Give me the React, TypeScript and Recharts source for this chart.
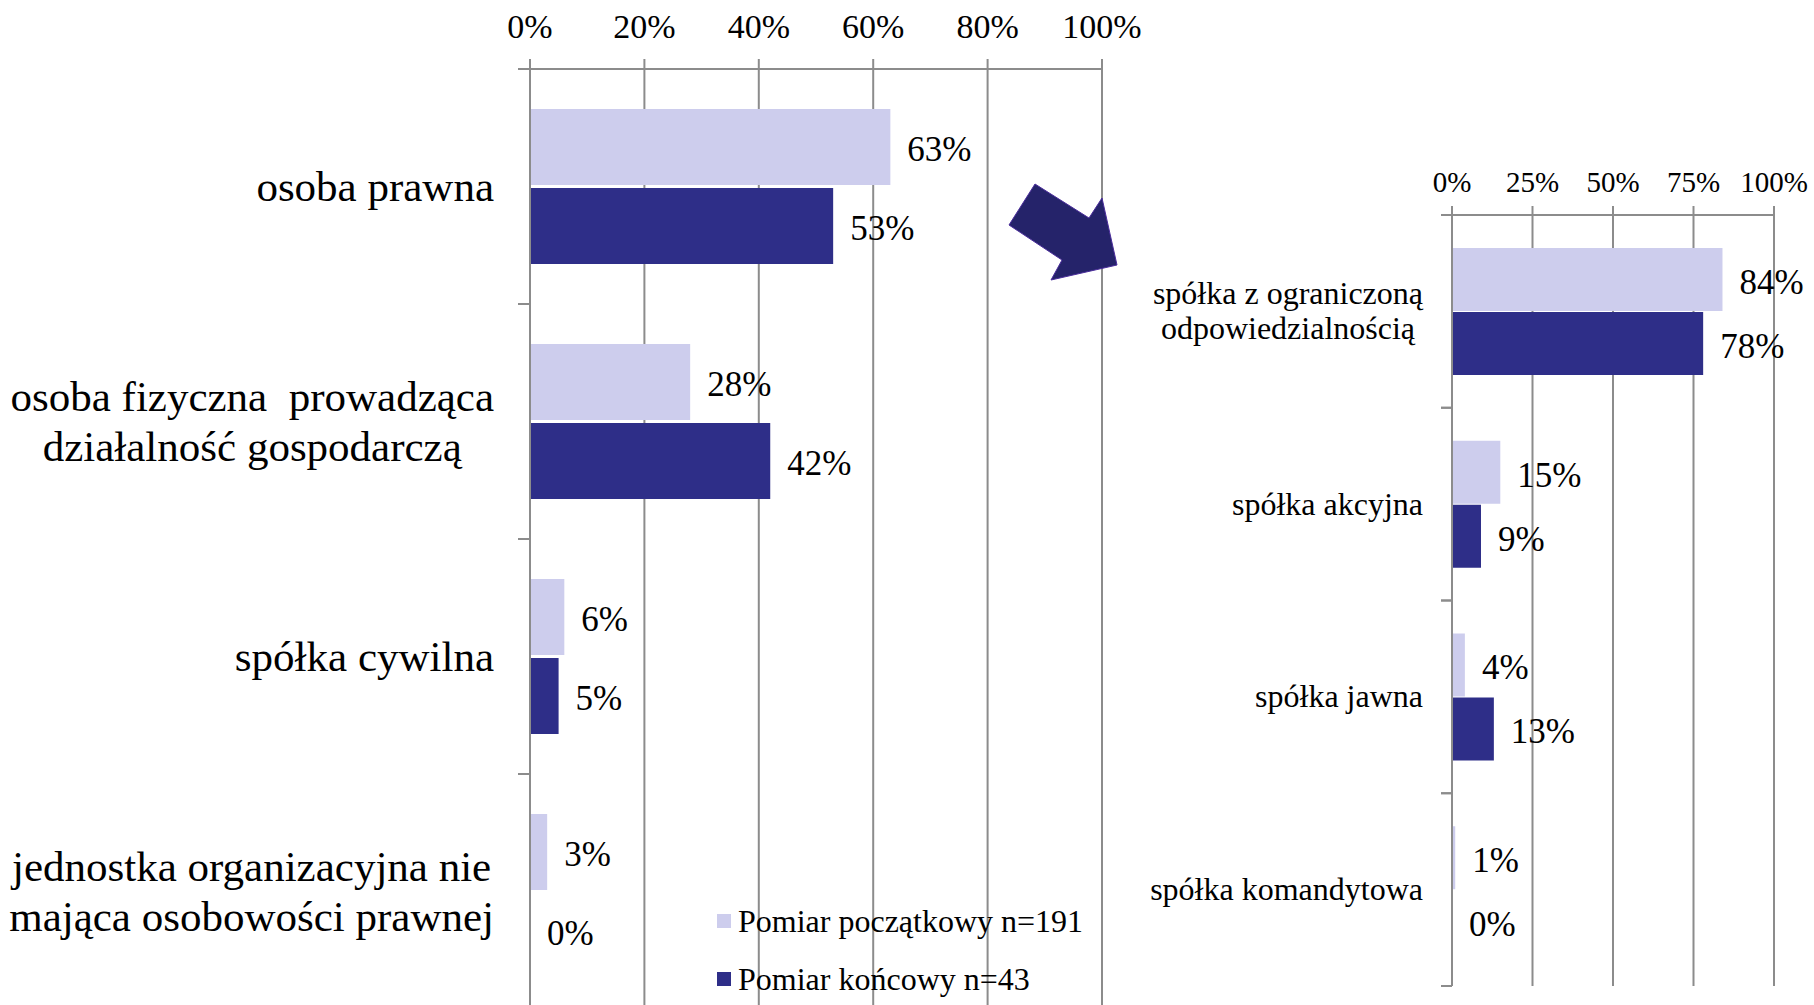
import React from "react";
import { BarChart, Bar, XAxis, YAxis, CartesianGrid, LabelList, Legend } from "recharts";

const FONT = '"Liberation Serif", "Times New Roman", serif';
const GRID = "#8c8c8c";
const LIGHT = "#cdcded";
const DARK = "#2e2e88";

const seriesNames = ["Pomiar początkowy n=191", "Pomiar końcowy n=43"];

const leftCategories = [
    "osoba prawna",
    "osoba fizyczna  prowadząca\ndziałalność gospodarczą",
    "spółka cywilna",
    "jednostka organizacyjna nie\nmająca osobowości prawnej",
];
const leftInitial = [63, 28, 6, 3];
const leftFinal = [53, 42, 5, 0];
const leftTicks = [0, 20, 40, 60, 80, 100];

const rightCategories = [
    "spółka z ograniczoną\nodpowiedzialnością",
    "spółka akcyjna",
    "spółka jawna",
    "spółka komandytowa",
];
const rightInitial = [84, 15, 4, 1];
const rightFinal = [78, 9, 13, 0];
const rightTicks = [0, 25, 50, 75, 100];

const leftData = leftCategories.map((name, i) => ({name, poczatkowy: leftInitial[i], koncowy: leftFinal[i]}));
const rightData = rightCategories.map((name, i) => ({name, poczatkowy: rightInitial[i], koncowy: rightFinal[i]}));

let ctx: CanvasRenderingContext2D | null = null;
const textWidth = (s: string, size: number) => {
    if (!ctx) ctx = document.createElement("canvas").getContext("2d");
    if (!ctx) return s.length * size * 0.45;
    ctx.font = `${size}px ${FONT}`;
    return ctx.measureText(s).width;
};

// category label, centred lines, block right-aligned; tick marks on band edges
const CategoryTick = (props: any) => {
    const {x, y, payload, fontSize, lineHeight, gap, tickLen, band} = props;
    const lines = String(payload.value).split("\n");
    const maxW = Math.max(...lines.map((l) => textWidth(l, fontSize)));
    const cx = x - gap - maxW / 2;
    const y0 = y - ((lines.length - 1) * lineHeight) / 2 + fontSize * 0.33;
    return (
        <g>
            <line x1={x - tickLen} x2={x} y1={y - band / 2} y2={y - band / 2} stroke={GRID} strokeWidth={2}/>
            <line x1={x - tickLen} x2={x} y1={y + band / 2} y2={y + band / 2} stroke={GRID} strokeWidth={2}/>
            <text textAnchor="middle" fontSize={fontSize} fontFamily={FONT} fill="#000" style={{whiteSpace: "pre"}}>
                {lines.map((l, i) => (
                    <tspan key={i} x={cx} y={y0 + i * lineHeight}>{l}</tspan>
                ))}
            </text>
        </g>
    );
};

const LegendContent = ({payload}: any) => {
    const items = [...(payload || [])].sort(
        (a: any, b: any) => seriesNames.indexOf(a.value) - seriesNames.indexOf(b.value));
    return (
        <div style={{fontFamily: FONT, fontSize: 32, color: "#000"}}>
            {items.map((p: any, i: number) => (
                <div key={i} style={{display: "flex", alignItems: "center", height: 58, whiteSpace: "nowrap"}}>
                    <span style={{width: 14, height: 14, background: p.color, marginRight: 7}}/>
                    <span>{p.value}</span>
                </div>
            ))}
        </div>
    );
};

const pct = (v: any) => `${v}%`;

export default function App() {
    return (
        <div style={{position: "absolute", left: 0, top: 0, width: 1814, height: 1005, overflow: "hidden", background: "#fff"}}>
            <div style={{position: "absolute", left: 0, top: 0}}>
                <BarChart width={1170} height={1009} data={leftData} layout="vertical"
                          margin={{top: 0, right: 68, bottom: 0, left: 0}} barGap={3}>
                    <CartesianGrid horizontal={false} stroke={GRID} strokeWidth={2}/>
                    <XAxis type="number" orientation="top" domain={[0, 100]} ticks={leftTicks} height={69}
                           interval={0} tickFormatter={pct} tickSize={10} tickMargin={21}
                           axisLine={{stroke: GRID, strokeWidth: 2}} tickLine={{stroke: GRID, strokeWidth: 2}}
                           tick={{fontSize: 34, fill: "#000", fontFamily: FONT}}/>
                    <YAxis type="category" dataKey="name" width={530} interval={0} tickSize={0} tickMargin={0}
                           tickLine={false} axisLine={{stroke: GRID, strokeWidth: 2}}
                           tick={<CategoryTick fontSize={43} lineHeight={50} gap={36} tickLen={12} band={235}/>}/>
                    <Legend layout="horizontal" verticalAlign="middle" align="center" content={<LegendContent/>}
                            wrapperStyle={{left: 717, top: 892, width: 420, height: 116}}/>
                    <Bar dataKey="poczatkowy" name={seriesNames[0]} fill={LIGHT} barSize={76} minPointSize={0.01}
                         isAnimationActive={false}>
                        <LabelList dataKey="poczatkowy" position="right" offset={17} formatter={pct} dy={2}
                                   fontSize={35} fontFamily={FONT} fill="#000"/>
                    </Bar>
                    <Bar dataKey="koncowy" name={seriesNames[1]} fill={DARK} barSize={76} minPointSize={0.01}
                         isAnimationActive={false}>
                        <LabelList dataKey="koncowy" position="right" offset={17} formatter={pct} dy={2}
                                   fontSize={35} fontFamily={FONT} fill="#000"/>
                    </Bar>
                </BarChart>
            </div>
            <div style={{position: "absolute", left: 960, top: 0}}>
                <BarChart width={854} height={1005} data={rightData} layout="vertical"
                          margin={{top: 0, right: 40, bottom: 19, left: 0}} barGap={1}>
                    <CartesianGrid horizontal={false} stroke={GRID} strokeWidth={2}/>
                    <XAxis type="number" orientation="top" domain={[0, 100]} ticks={rightTicks} height={215}
                           interval={0} tickFormatter={pct} tickSize={9} tickMargin={14}
                           axisLine={{stroke: GRID, strokeWidth: 2}} tickLine={{stroke: GRID, strokeWidth: 2}}
                           tick={{fontSize: 29, fill: "#000", fontFamily: FONT}}/>
                    <YAxis type="category" dataKey="name" width={492} interval={0} tickSize={0} tickMargin={0}
                           tickLine={false} axisLine={{stroke: GRID, strokeWidth: 2}}
                           tick={<CategoryTick fontSize={32} lineHeight={35} gap={29} tickLen={11} band={192.75}/>}/>
                    <Bar dataKey="poczatkowy" name={seriesNames[0]} fill={LIGHT} barSize={63} minPointSize={0.01}
                         isAnimationActive={false}>
                        <LabelList dataKey="poczatkowy" position="right" offset={17} formatter={pct} dy={2}
                                   fontSize={35} fontFamily={FONT} fill="#000"/>
                    </Bar>
                    <Bar dataKey="koncowy" name={seriesNames[1]} fill={DARK} barSize={63} minPointSize={0.01}
                         isAnimationActive={false}>
                        <LabelList dataKey="koncowy" position="right" offset={17} formatter={pct} dy={2}
                                   fontSize={35} fontFamily={FONT} fill="#000"/>
                    </Bar>
                </BarChart>
            </div>
            <svg width={1814} height={1005} style={{position: "absolute", left: 0, top: 0, pointerEvents: "none"}}>
                <polygon points="1035,184 1089,218 1102,198 1117,265 1051,280 1062,260 1009,225"
                         fill="#25236a" stroke="#4b2d9c" strokeWidth={1}/>
            </svg>
        </div>
    );
}
